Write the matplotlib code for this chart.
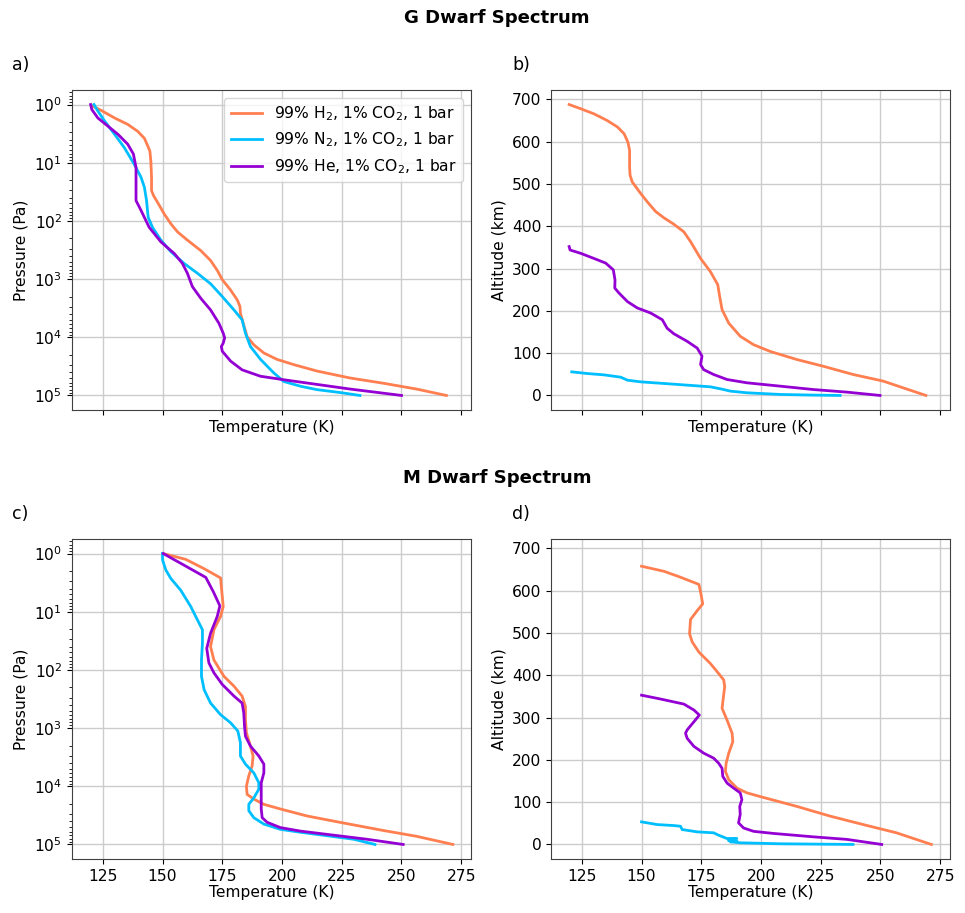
import matplotlib
matplotlib.use("Agg")
import matplotlib.pyplot as plt

# ---------------- data ----------------
labels = ["99% H$_2$, 1% CO$_2$, 1 bar",
          "99% N$_2$, 1% CO$_2$, 1 bar",
          "99% He, 1% CO$_2$, 1 bar"]
colors = ["#FF7F50", "#00BFFF", "#9400D3"]

# G dwarf: temperature vs log10 pressure (panel a)
g_h2_T = [120.4, 124.3, 129.9, 135.4, 139.6, 142.4, 143.8, 144.7, 145.1, 145.4, 145.4, 146.3, 147.9, 150.7,
          153.5, 156.3, 160.4, 166.0, 170.1, 172.9, 175.0, 178.5, 181.3, 182.4, 182.6, 183.8, 185.4, 188.2,
          192.4, 197.9, 204.9, 214.6, 228.5, 242.4, 256.3, 268.8]
g_h2_logP = [0.02, 0.10, 0.23, 0.34, 0.46, 0.58, 0.71, 0.80, 0.97, 1.25, 1.48, 1.57, 1.68, 1.88,
             2.05, 2.19, 2.33, 2.51, 2.68, 2.85, 3.01, 3.19, 3.36, 3.47, 3.59, 3.76, 3.99, 4.13,
             4.27, 4.38, 4.47, 4.58, 4.70, 4.79, 4.89, 5.00]
g_n2_T = [121.3, 122.9, 125.7, 129.9, 134.0, 138.2, 141.0, 142.4, 143.3, 144.0, 145.8, 149.3, 153.5, 159.0,
          164.6, 170.1, 175.0, 179.9, 183.3, 184.7, 186.8, 191.0, 196.5, 200.7, 207.6, 214.6, 224.3, 232.6]
g_n2_logP = [0.00, 0.11, 0.28, 0.51, 0.74, 1.03, 1.25, 1.42, 1.65, 1.94, 2.11, 2.33, 2.53, 2.73,
             2.90, 3.08, 3.30, 3.53, 3.70, 3.93, 4.16, 4.38, 4.61, 4.76, 4.84, 4.90, 4.95, 5.00]
g_he_T = [119.9, 120.4, 122.9, 127.1, 131.3, 135.4, 137.8, 138.9, 138.9, 138.9, 141.0, 144.4, 149.3, 154.9,
          158.3, 160.4, 162.5, 166.0, 170.1, 173.6, 175.4, 176.0, 175.4, 174.6, 175.0, 178.5, 183.3, 191.0,
          200.7, 214.6, 228.5, 250.0]
g_he_logP = [0.00, 0.085, 0.23, 0.37, 0.51, 0.68, 0.85, 1.08, 1.37, 1.65, 1.82, 2.11, 2.36, 2.56,
             2.73, 2.90, 3.13, 3.33, 3.53, 3.76, 3.93, 4.01, 4.10, 4.16, 4.24, 4.41, 4.56, 4.67,
             4.73, 4.81, 4.89, 5.00]

# G dwarf: temperature vs altitude (panel b)
gb_h2_T = [119.7, 124.6, 130.1, 135.7, 139.9, 142.7, 144.3, 145.0, 145.0, 145.2, 146.1, 149.6, 152.4, 155.9,
           159.4, 163.5, 167.7, 170.5, 174.7, 178.8, 181.9, 182.7, 183.7, 186.5, 191.3, 196.9, 203.9, 215.0,
           226.1, 238.6, 251.1, 259.5, 269.0]
gb_h2_z = [688, 678, 666, 650, 635, 619, 599, 580, 540, 521, 505, 478, 458, 435,
           420, 405, 387, 364, 324, 293, 262, 234, 203, 171, 140, 120, 104, 85,
           69, 49.5, 34, 18, 0]
gb_n2_T = [120.8, 127.4, 134.3, 141.3, 144.1, 149.6, 159.4, 169.1, 178.8, 183.0, 187.2, 194.1, 208.0, 221.9, 233.1]
gb_n2_z = [55.8, 51.8, 48.7, 43.2, 36.1, 32.2, 28.3, 24.4, 20.4, 15.7, 10.2, 6.3, 2.4, 0.8, 0]
gb_he_T = [119.7, 120.1, 124.6, 130.1, 135.0, 138.2, 138.9, 138.8, 140.6, 144.1, 148.2, 153.8, 158.7, 160.7,
           163.5, 169.1, 173.3, 175.3, 174.7, 176.0, 180.2, 185.8, 194.1, 208.0, 221.9, 235.9, 249.8]
gb_he_z = [352, 344, 336, 324, 313, 297, 273, 254, 242, 222, 207, 195, 179, 159,
           146, 128, 112, 93, 73, 61, 49.5, 37.7, 29.9, 22, 14, 7.9, 0]

# M dwarf: temperature vs log10 pressure (panel c)
m_h2_T = [150.3, 159.7, 167.4, 174.3, 174.6, 175.4, 174.3, 171.5, 170.1, 171.5, 175.7, 179.9, 183.3, 184.7,
          184.7, 185.1, 186.8, 187.9, 187.5, 186.1, 185.1, 185.4, 188.2, 192.4, 199.3, 210.4, 224.3, 242.4,
          256.3, 271.5]
m_h2_logP = [0.00, 0.10, 0.26, 0.42, 0.57, 0.91, 1.08, 1.31, 1.60, 1.83, 2.11, 2.28, 2.45, 2.63,
             2.85, 3.08, 3.31, 3.48, 3.65, 3.82, 4.00, 4.14, 4.22, 4.31, 4.39, 4.51, 4.62, 4.76,
             4.86, 5.00]
m_n2_T = [150.0, 150.0, 151.4, 153.5, 157.6, 161.8, 164.6, 166.7, 166.7, 166.3, 166.3, 167.4, 170.1, 174.3,
          178.5, 181.5, 182.6, 182.6, 184.7, 188.2, 190.3, 190.3, 188.2, 186.1, 186.1, 188.2, 192.4, 199.3,
          207.6, 218.8, 229.9, 238.9]
m_n2_logP = [0.00, 0.11, 0.285, 0.43, 0.63, 0.91, 1.14, 1.31, 1.54, 1.83, 2.11, 2.34, 2.57, 2.77,
             2.91, 3.05, 3.25, 3.48, 3.62, 3.77, 3.94, 4.05, 4.20, 4.31, 4.42, 4.54, 4.65, 4.74,
             4.79, 4.85, 4.91, 5.00]
m_he_T = [150.3, 159.0, 168.1, 171.3, 174.0, 172.9, 170.1, 168.5, 169.4, 171.5, 175.0, 179.9, 183.3, 184.0,
          184.3, 184.7, 186.8, 190.3, 192.4, 192.4, 191.3, 191.3, 191.3, 191.7, 193.8, 199.3, 207.6, 221.5,
          235.4, 250.7]
m_he_logP = [0.00, 0.20, 0.41, 0.66, 0.90, 1.08, 1.37, 1.63, 1.88, 2.05, 2.25, 2.45, 2.57, 2.74,
             2.97, 3.14, 3.31, 3.48, 3.62, 3.77, 3.94, 4.11, 4.39, 4.54, 4.62, 4.71, 4.77, 4.84,
             4.91, 5.00]

# M dwarf: temperature vs altitude (panel d)
md_h2_T = [150.0, 159.4, 166.3, 174.0, 174.7, 175.6, 173.3, 170.5, 170.1, 171.2, 174.0, 178.8, 182.3, 184.4,
           184.8, 184.1, 183.7, 185.8, 187.9, 188.2, 186.5, 185.4, 185.1, 186.5, 190.0, 194.1, 201.1, 215.0,
           228.9, 242.8, 256.7, 271.3]
md_h2_z = [658, 646, 632, 615, 597, 569, 553, 532, 498, 479, 455, 428, 404, 389,
           373, 341, 322, 294, 263, 243, 216, 192, 173, 153, 133, 122, 111, 90,
           67, 47, 27.5, 0]
md_n2_T = [150.0, 156.6, 163.5, 166.3, 167.0, 173.2, 180.2, 182.2, 185.7, 189.9, 186.4, 189.9, 187.1, 191.3,
           207.9, 238.5]
md_n2_z = [53.4, 47.0, 44.7, 43.1, 35.3, 29.8, 27.5, 22.0, 14.1, 14.1, 9.4, 7.8, 6.3, 3.9,
           1.6, 0]
md_he_T = [150.0, 157.9, 167.7, 171.9, 174.2, 171.9, 169.1, 168.4, 169.1, 171.9, 176.0, 180.2, 182.3, 183.7,
           184.0, 185.8, 188.6, 191.3, 192.0, 191.1, 191.3, 190.6, 192.7, 196.9, 205.3, 221.9, 235.9, 250.5]
md_he_z = [353, 344, 332, 318, 306, 290, 271, 263, 251, 232, 216, 204, 192, 180,
           161, 145, 133, 122, 106, 90, 71, 51, 39, 31, 26, 18, 12, 0]

xticks = [125, 150, 175, 200, 225, 250, 275]

# ---------------- figure ----------------
plt.rcParams['font.family'] = ['DejaVu Sans']
plt.rcParams['font.size'] = 11.2
plt.rcParams['axes.edgecolor'] = '#404040'

W, H = 965, 913
fig = plt.figure(figsize=(W / 100, H / 100), dpi=100)


def rect(l, t, r, b):
    return [l / W, 1 - b / H, (r - l) / W, (b - t) / H]


ax_a = fig.add_axes(rect(72, 90, 471, 410))
ax_b = fig.add_axes(rect(551, 90, 950, 410), sharex=ax_a)
ax_c = fig.add_axes(rect(72, 539, 471, 859), sharex=ax_a, sharey=ax_a)
ax_d = fig.add_axes(rect(551, 539, 950, 859), sharex=ax_a, sharey=ax_b)

lw = 2.0
for T, lp, c, lab in [(g_h2_T, g_h2_logP, colors[0], labels[0]),
                      (g_n2_T, g_n2_logP, colors[1], labels[1]),
                      (g_he_T, g_he_logP, colors[2], labels[2])]:
    ax_a.plot(T, [10 ** v for v in lp], color=c, lw=lw, label=lab)
for T, z, c in [(gb_h2_T, gb_h2_z, colors[0]), (gb_n2_T, gb_n2_z, colors[1]), (gb_he_T, gb_he_z, colors[2])]:
    ax_b.plot(T, z, color=c, lw=lw)
for T, lp, c in [(m_h2_T, m_h2_logP, colors[0]), (m_n2_T, m_n2_logP, colors[1]), (m_he_T, m_he_logP, colors[2])]:
    ax_c.plot(T, [10 ** v for v in lp], color=c, lw=lw)
for T, z, c in [(md_h2_T, md_h2_z, colors[0]), (md_n2_T, md_n2_z, colors[1]), (md_he_T, md_he_z, colors[2])]:
    ax_d.plot(T, z, color=c, lw=lw)

ax_a.set_yscale('log')
ax_a.invert_yaxis()
ax_a.set_xticks(xticks)

for ax in (ax_a, ax_b, ax_c, ax_d):
    ax.grid(True, color='#cccccc', lw=1.0)
    ax.set_axisbelow(True)
for ax in (ax_a, ax_b):
    ax.tick_params(labelbottom=False)
    ax.set_xlabel("Temperature (K)")
for ax in (ax_c, ax_d):
    ax.set_xlabel("Temperature (K)", labelpad=1)
ax_a.set_ylabel("Pressure (Pa)")
ax_c.set_ylabel("Pressure (Pa)")
ax_b.set_ylabel("Altitude (km)")
ax_d.set_ylabel("Altitude (km)")

ax_a.legend(loc='upper right', fontsize=11.2)

fig.text(12 / W, 1 - 65 / H, "a)", fontsize=12.5, va='center', ha='left')
fig.text(512 / W, 1 - 65 / H, "b)", fontsize=12.5, va='center', ha='left')
fig.text(12 / W, 1 - 514 / H, "c)", fontsize=12.5, va='center', ha='left')
fig.text(512 / W, 1 - 514 / H, "d)", fontsize=12.5, va='center', ha='left')

fig.text(497 / W, 1 - 18 / H, "G Dwarf Spectrum", fontsize=13, fontweight='bold', ha='center', va='center')
fig.text(497 / W, 1 - 478 / H, "M Dwarf Spectrum", fontsize=13, fontweight='bold', ha='center', va='center')

fig.savefig("out.png", dpi=100)
